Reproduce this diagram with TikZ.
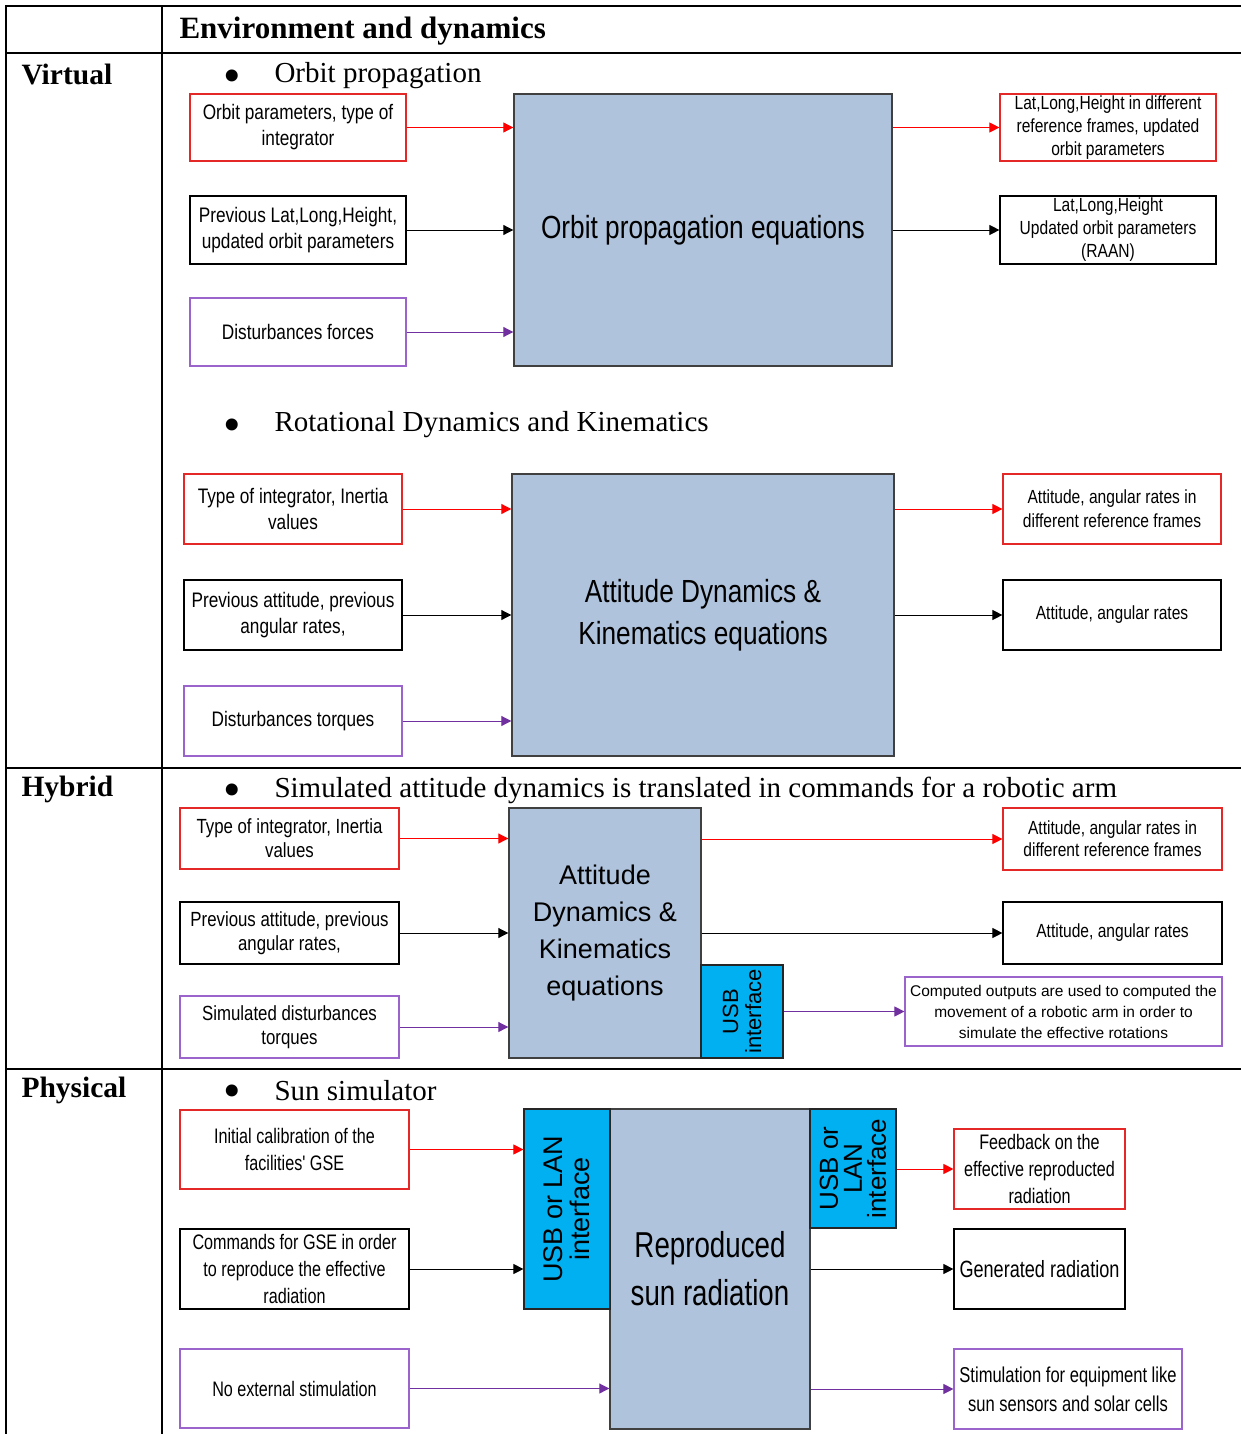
\documentclass[tikz,border=0pt]{standalone}
\usepackage{fontspec}
\setmainfont{Liberation Serif}
\newfontfamily\nar[FakeStretch=0.82]{Liberation Sans}
\newfontfamily\narr[FakeStretch=0.77]{Liberation Sans}
\newfontfamily\ari{Liberation Sans}
\usetikzlibrary{arrows.meta}

\definecolor{boxred}{RGB}{228,40,40}
\definecolor{arrred}{RGB}{255,0,0}
\definecolor{boxpur}{RGB}{155,100,205}
\definecolor{arrpur}{RGB}{112,48,160}
\definecolor{eqfill}{RGB}{176,195,220}
\definecolor{usbfill}{RGB}{0,176,240}

\tikzset{
  grid/.style={line width=2, line cap=rect},
  io/.style={line width=1.2, align=center, inner sep=0},
  eq/.style={draw=black!75, line width=1.4, fill=eqfill, align=center, inner sep=0},
  usb/.style={draw=black!85, line width=1.2, fill=usbfill, inner sep=0},
  flow/.style={line width=1.0, -{Triangle[length=10,width=10]}},
  rflow/.style={flow, arrred},
  kflow/.style={flow, black},
  pflow/.style={flow, arrpur},
  rowlabel/.style={anchor=west, font=\bfseries\fontsize{29.5}{34}\selectfont},
  topic/.style={anchor=west, font=\fontsize{29}{33}\selectfont},
  dot/.style={font=\fontsize{50}{50}\selectfont},
}

% input/output block: name, x1, y1, x2, y2, options, text
\newcommand\ioblock[7]{%
  \node[io,#6,minimum width={#4-#2},minimum height={#5-#3}] (#1)
    at ({(#2+#4)/2},{(#3+#5)/2}) {#7};}
% processing block with the same arguments
\newcommand\eqblock[7]{%
  \node[#6,minimum width={#4-#2},minimum height={#5-#3}] (#1)
    at ({(#2+#4)/2},{(#3+#5)/2}) {#7};}

\begin{document}
\begin{tikzpicture}[x=1pt,y=-1pt]
\useasboundingbox (0,0) rectangle (1240,1434);

% ---------- table ----------
\draw[grid] (6,6) -- (1240,6);
\draw[grid] (6,53) -- (1240,53);
\draw[grid] (6,768) -- (1240,768);
\draw[grid] (6,1069) -- (1240,1069);
\draw[grid] (6,6) -- (6,1434);
\draw[grid] (162,6) -- (162,1434);

\node[anchor=west, font=\bfseries\fontsize{31}{35}\selectfont] (head) at (176,31) {Environment and dynamics};
\node[rowlabel] (rv) at (18,74) {Virtual};
\node[rowlabel] (rh) at (18,789) {Hybrid};
\node[rowlabel] (rp) at (18,1090) {Physical};

% ---------- Virtual: orbit propagation ----------
\node[dot] (b1) at (232,81) {\textbullet};
\node[topic] (t1) at (271,76) {Orbit propagation};

\eqblock{m1}{514}{94}{892}{366}{eq, font=\nar\fontsize{32}{40}\selectfont}{Orbit propagation equations}

\ioblock{a1}{190}{94}{406}{161}{draw=boxred, font=\nar\fontsize{21}{26}\selectfont}{Orbit parameters, type of\\integrator}
\ioblock{a2}{190}{196}{406}{264}{draw=black, font=\nar\fontsize{21}{26}\selectfont}{Previous Lat,Long,Height,\\updated orbit parameters}
\ioblock{a3}{190}{298}{406}{366}{draw=boxpur, font=\nar\fontsize{21}{26}\selectfont}{Disturbances forces}
\ioblock{a4}{1000}{94}{1216}{161}{draw=boxred, font=\nar\fontsize{19}{23}\selectfont}{Lat,Long,Height in different\\reference frames, updated\\orbit parameters}
\ioblock{a5}{1000}{196}{1216}{264}{draw=black, font=\nar\fontsize{19}{23}\selectfont}{Lat,Long,Height\\Updated orbit parameters\\(RAAN)}

\draw[rflow] (a1.east) -- (a1.east -| m1.west);
\draw[kflow] (a2.east) -- (a2.east -| m1.west);
\draw[pflow] (a3.east) -- (a3.east -| m1.west);
\draw[rflow] (a4.west -| m1.east) -- (a4.west);
\draw[kflow] (a5.west -| m1.east) -- (a5.west);

% ---------- Virtual: rotational dynamics ----------
\node[dot] (b2) at (232,430) {\textbullet};
\node[topic] (t2) at (271,425) {Rotational Dynamics and Kinematics};

\eqblock{m2}{512}{474}{894}{756}{eq, font=\nar\fontsize{32}{42}\selectfont}{Attitude Dynamics \&\\Kinematics equations}

\ioblock{c1}{184}{474}{402}{544}{draw=boxred, font=\nar\fontsize{21}{26}\selectfont}{Type of integrator, Inertia\\values}
\ioblock{c2}{184}{580}{402}{650}{draw=black, font=\nar\fontsize{21}{26}\selectfont}{Previous attitude, previous\\angular rates,}
\ioblock{c3}{184}{686}{402}{756}{draw=boxpur, font=\nar\fontsize{21}{26}\selectfont}{Disturbances torques}
\ioblock{c4}{1003}{474}{1221}{544}{draw=boxred, font=\nar\fontsize{19}{24}\selectfont}{Attitude, angular rates in\\different reference frames}
\ioblock{c5}{1003}{580}{1221}{650}{draw=black, font=\nar\fontsize{19}{24}\selectfont}{Attitude, angular rates}

\draw[rflow] (c1.east) -- (c1.east -| m2.west);
\draw[kflow] (c2.east) -- (c2.east -| m2.west);
\draw[pflow] (c3.east) -- (c3.east -| m2.west);
\draw[rflow] (c4.west -| m2.east) -- (c4.west);
\draw[kflow] (c5.west -| m2.east) -- (c5.west);

% ---------- Hybrid ----------
\node[dot] (b3) at (232,795) {\textbullet};
\node[topic] (t3) at (271,790) {Simulated attitude dynamics is translated in commands for a robotic arm};

\eqblock{m3}{509}{808}{701}{1058}{eq, font=\ari\fontsize{27}{37}\selectfont}{Attitude\\Dynamics \&\\Kinematics\\equations}
\eqblock{u3}{701}{965}{783}{1058}{usb}{}
\node[rotate=90, align=center, font=\ari\fontsize{22}{23}\selectfont] (u3t) at (u3.center) {USB\\interface};

\ioblock{h1}{180}{808}{399}{869}{draw=boxred, font=\nar\fontsize{20.5}{24}\selectfont}{Type of integrator, Inertia\\values}
\ioblock{h2}{180}{902}{399}{964}{draw=black, font=\nar\fontsize{20.5}{24}\selectfont}{Previous attitude, previous\\angular rates,}
\ioblock{h3}{180}{996}{399}{1058}{draw=boxpur, font=\nar\fontsize{20.5}{24}\selectfont}{Simulated disturbances\\torques}
\ioblock{h4}{1003}{808}{1222}{870}{draw=boxred, font=\nar\fontsize{19}{22}\selectfont}{Attitude, angular rates in\\different reference frames}
\ioblock{h5}{1003}{902}{1222}{964}{draw=black, font=\nar\fontsize{19}{22}\selectfont}{Attitude, angular rates}
\ioblock{h6}{905}{977}{1222}{1046}{draw=boxpur, font=\ari\fontsize{15.5}{21}\selectfont}{Computed outputs are used to computed the\\movement of a robotic arm in order to\\simulate the effective rotations}

\draw[rflow] (h1.east) -- (h1.east -| m3.west);
\draw[kflow] (h2.east) -- (h2.east -| m3.west);
\draw[pflow] (h3.east) -- (h3.east -| m3.west);
\draw[rflow] (h4.west -| m3.east) -- (h4.west);
\draw[kflow] (h5.west -| m3.east) -- (h5.west);
\draw[pflow] (h6.west -| u3.east) -- (h6.west);

% ---------- Physical ----------
\node[dot] (b4) at (232,1096) {\textbullet};
\node[topic] (t4) at (271,1091) {Sun simulator};

\eqblock{m4}{610}{1109}{810}{1429}{eq, font=\narr\fontsize{36}{48}\selectfont}{Reproduced\\sun radiation}
\eqblock{uL}{524}{1109}{610}{1309}{usb}{}
\eqblock{uR}{810}{1109}{896}{1228}{usb}{}
\node[rotate=90, align=center, font=\ari\fontsize{27}{27}\selectfont] (uLt) at (uL.center) {USB or LAN\\interface};
\node[rotate=90, align=center, font=\ari\fontsize{26}{24}\selectfont] (uRt) at (uR.center) {USB or\\LAN\\interface};

\ioblock{p1}{180}{1110}{409}{1189}{draw=boxred, font=\narr\fontsize{21}{27}\selectfont}{Initial calibration of the\\facilities' GSE}
\ioblock{p2}{180}{1229}{409}{1309}{draw=black, font=\narr\fontsize{21}{27}\selectfont}{Commands for GSE in order\\to reproduce the effective\\radiation}
\ioblock{p3}{180}{1349}{409}{1428}{draw=boxpur, font=\narr\fontsize{21}{27}\selectfont}{No external stimulation}
\ioblock{p4}{954}{1129}{1125}{1209}{draw=boxred, font=\narr\fontsize{21}{27}\selectfont}{Feedback on the\\effective reproducted\\radiation}
\ioblock{p5}{954}{1229}{1125}{1309}{draw=black, font=\narr\fontsize{23.5}{28}\selectfont}{Generated radiation}
\ioblock{p6}{954}{1349}{1182}{1429}{draw=boxpur, font=\narr\fontsize{21.5}{29}\selectfont}{Stimulation for equipment like\\sun sensors and solar cells}

\draw[rflow] (p1.east) -- (p1.east -| uL.west);
\draw[kflow] (p2.east) -- (p2.east -| uL.west);
\draw[pflow] (p3.east) -- (p3.east -| m4.west);
\draw[rflow] (p4.west -| uR.east) -- (p4.west);
\draw[kflow] (p5.west -| m4.east) -- (p5.west);
\draw[pflow] (p6.west -| m4.east) -- (p6.west);

\end{tikzpicture}
\end{document}
